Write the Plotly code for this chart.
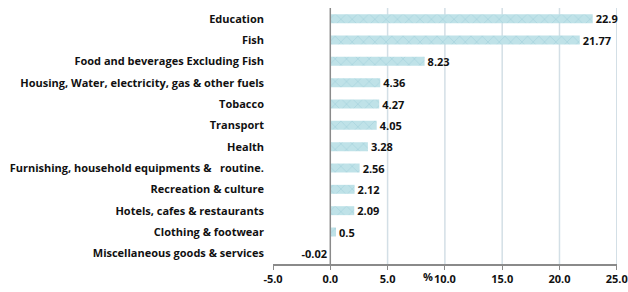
import plotly.graph_objects as go

categories = [
    "Education",
    "Fish",
    "Food and beverages Excluding Fish",
    "Housing, Water, electricity, gas & other fuels",
    "Tobacco",
    "Transport",
    "Health",
    "Furnishing, household equipments &   routine.",
    "Recreation & culture",
    "Hotels, cafes & restaurants",
    "Clothing & footwear",
    "Miscellaneous goods & services",
]
values = [22.9, 21.77, 8.23, 4.36, 4.27, 4.05, 3.28, 2.56, 2.12, 2.09, 0.5, -0.02]
value_labels = ["22.9", "21.77", "8.23", "4.36", "4.27", "4.05", "3.28", "2.56", "2.12", "2.09", "0.5", "-0.02"]
tick_vals = [-5, 0, 5, 10, 15, 20, 25]
tick_text = ["-5.0", "0.0", "5.0", "10.0", "15.0", "20.0", "25.0"]
grid_vals = [5, 10, 15, 20, 25]

FONT = "Open Sans"

fig = go.Figure()
fig.add_trace(go.Bar(
    y=categories,
    x=values,
    orientation="h",
    marker=dict(
        color="#bfe2e8",
        line=dict(width=0),
        pattern=dict(shape="x", fgcolor="#93c9d3", fgopacity=0.6, size=8, solidity=0.15, fillmode="overlay"),
    ),
    text=value_labels,
    textposition="outside",
    constraintext="none",
    textfont=dict(family=FONT, size=11, color="#111111", weight="bold"),
    cliponaxis=False,
    width=0.42,
))

for g in grid_vals:
    fig.add_shape(type="line", xref="x", yref="paper", x0=g, x1=g, y0=0, y1=1,
                  line=dict(color="#d3dfe6", width=1.5), layer="below")
fig.add_shape(type="line", xref="x", yref="paper", x0=0, x1=0, y0=0, y1=1,
              line=dict(color="#8a8a8a", width=1.5), layer="above")

fig.update_layout(
    width=628, height=292,
    margin=dict(l=273, r=11, t=8, b=28, autoexpand=False),
    paper_bgcolor="white", plot_bgcolor="white",
    showlegend=False,
    font=dict(family=FONT, size=11, color="#111111"),
    xaxis=dict(
        range=[-5, 25.02], automargin=False,
        tickvals=tick_vals, ticktext=tick_text,
        showgrid=False, zeroline=False,
        showline=True, linecolor="#8a8a8a", linewidth=1.5,
        ticks="outside", ticklen=4, tickcolor="#8a8a8a",
        tickfont=dict(family=FONT, size=11, color="#111111", weight="bold"),
    ),
    yaxis=dict(
        autorange="reversed", automargin=False,
        showgrid=False, zeroline=False, showline=False,
        ticks="", ticklabelstandoff=8,
        tickfont=dict(family=FONT, size=11, color="#111111", weight="bold"),
    ),
)
fig.add_annotation(text="%", xref="x", yref="paper", x=8.5, y=0, yshift=-22,
                   showarrow=False, font=dict(family=FONT, size=11, color="#111111", weight="bold"))

fig.write_html("out.html", config={"displayModeBar": False},
               post_script="document.body.style.margin='0';document.body.style.padding='0';document.body.style.overflow='hidden';")
